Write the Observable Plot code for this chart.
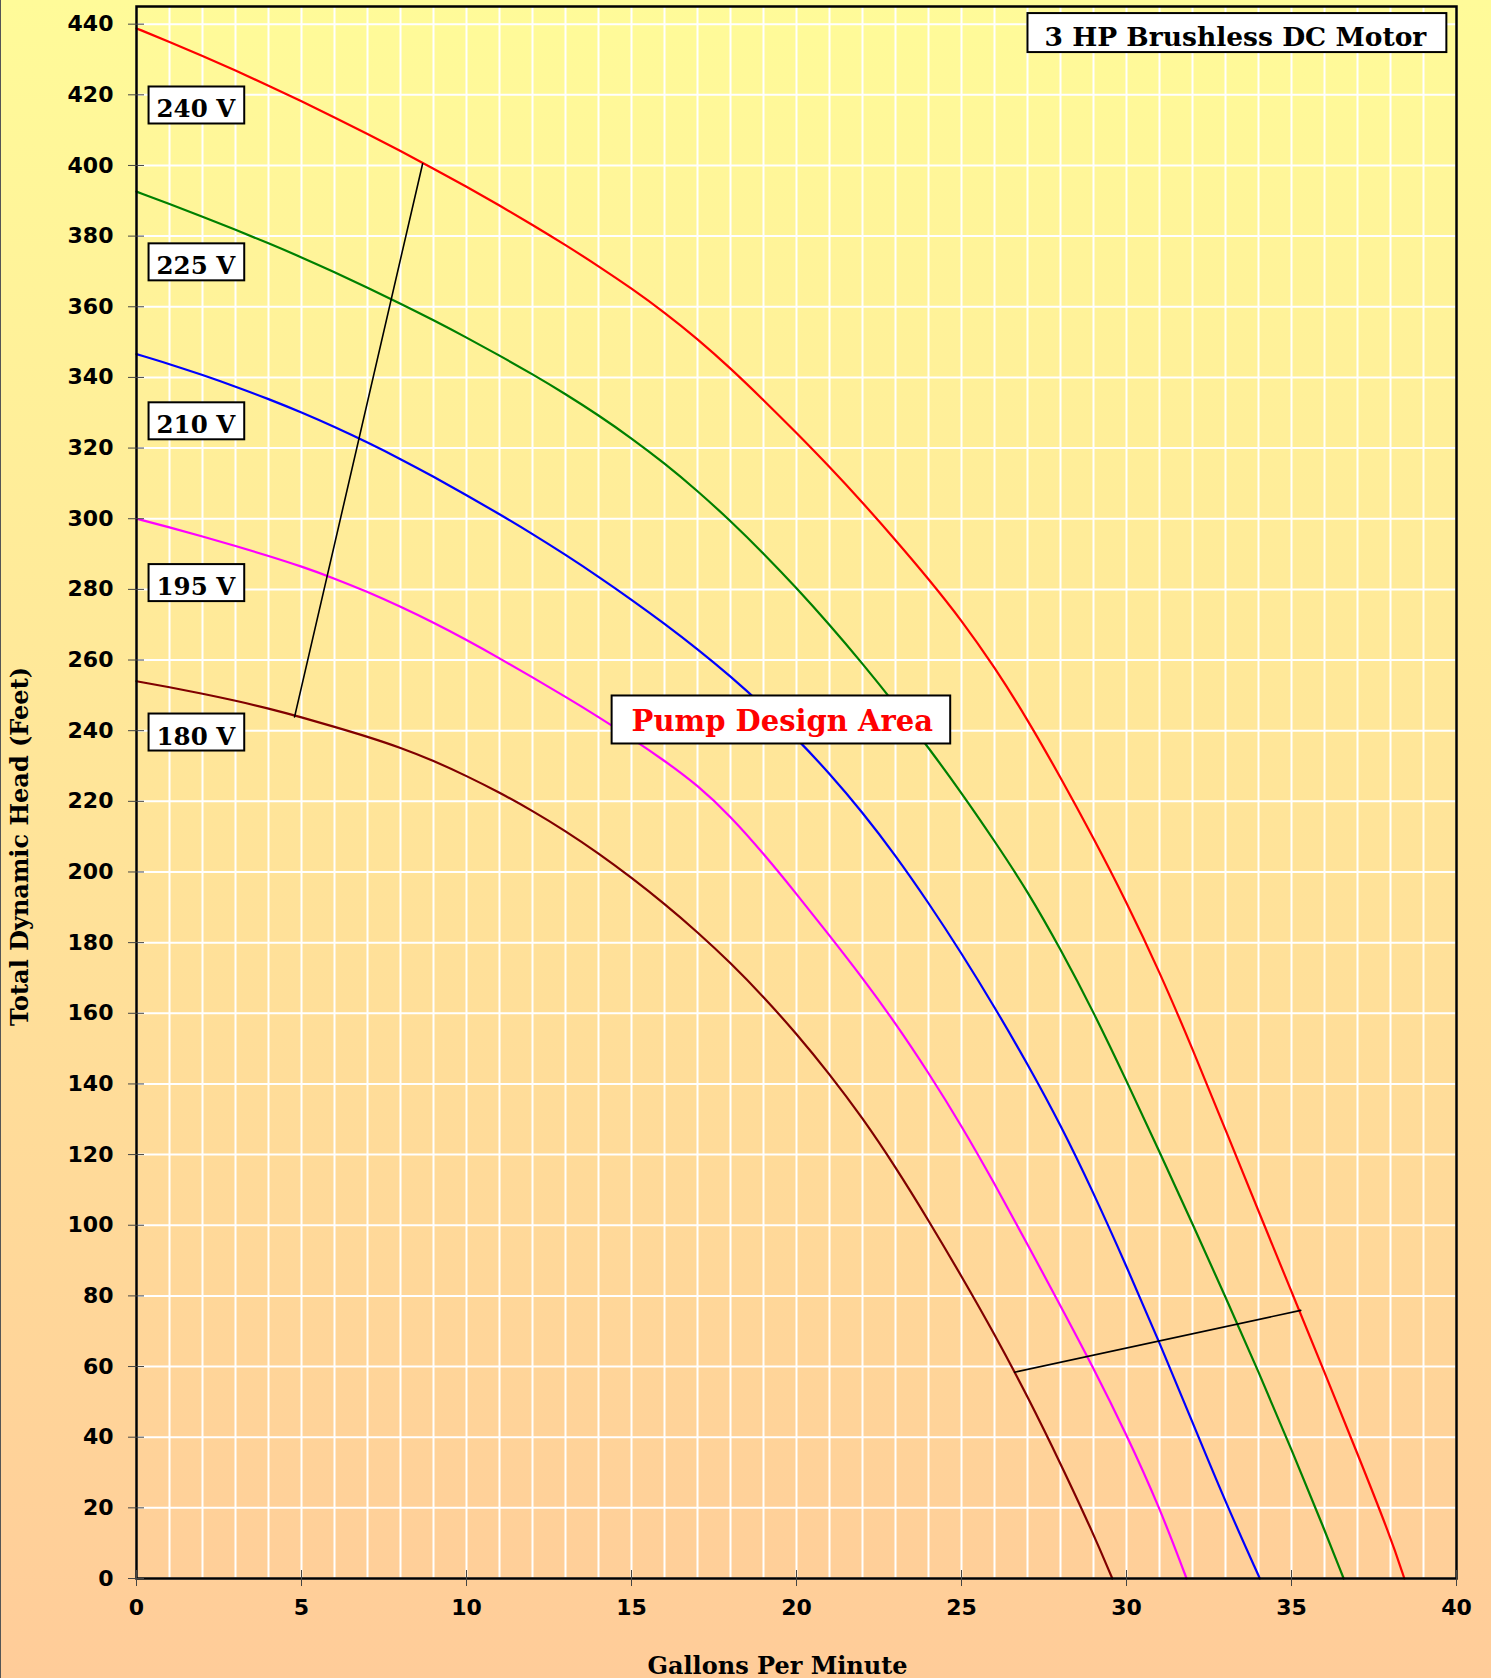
<!DOCTYPE html>
<html>
<head>
<meta charset="utf-8">
<script src="https://cdn.jsdelivr.net/npm/d3@7"></script>
<script src="https://cdn.jsdelivr.net/npm/@observablehq/plot@0.6"></script>
<style>
  html, body { margin: 0; padding: 0; }
  body {
    width: 1491px; height: 1678px; overflow: hidden;
    background:
      linear-gradient(to right, #555 0, #555 1px, transparent 1px),
      linear-gradient(to bottom, #FFFB99 0%, #FFCC99 100%);
  }
  #chart svg { display: block; }
</style>
</head>
<body>
<div id="chart"></div>
<script>
// ---- Data ----
const xTicks = [0, 5, 10, 15, 20, 25, 30, 35, 40];
const yTicks = [0, 20, 40, 60, 80, 100, 120, 140, 160, 180, 200, 220, 240, 260, 280, 300, 320, 340, 360, 380, 400, 420, 440];
const xMinorGrid = [0,1,2,3,4,5,6,7,8,9,10,11,12,13,14,15,16,17,18,19,20,21,22,23,24,25,26,27,28,29,30,31,32,33,34,35,36,37,38,39,40];

const gpm240 = [0,1,2,3,4,5,6,7,8,9,10,11,12,13,14,15,16,17,18,19,20,21,22,23,24,25,26,27,28,29,30,31,32,33,34,35,36,37,38,38.42];
const head240 = [438.8,435,431,426.9,422.6,418.2,413.6,408.9,404.1,399.1,394,388.7,383.2,377.5,371.5,365.2,358.4,350.9,342.6,333.6,324.3,314.7,304.6,294,283,271.3,258,243.2,226.8,209.6,191.5,171.8,150,127,104,81.2,58.4,35.3,11.8,0];

const gpm225 = [0,1,2,3,4,5,6,7,8,9,10,11,12,13,14,15,16,17,18,19,20,21,22,23,24,25,26,27,28,29,30,31,32,33,34,35,36,36.58];
const head225 = [392.6,389.1,385.5,381.8,378,374,369.8,365.4,360.9,356.2,351.3,346.2,340.9,335.3,329.3,322.8,315.7,307.9,299.4,290.2,280.4,270,259,247.4,235.2,222.4,208.8,194.6,178.2,160.4,140.9,120.8,100.4,79.7,58.6,36.5,13.8,0];

const gpm210 = [0,1,2,3,4,5,6,7,8,9,10,11,12,13,14,15,16,17,18,19,20,21,22,23,24,25,26,27,28,29,30,31,32,33,34.04];
const head210 = [346.6,343.8,340.7,337.4,333.9,330.1,326,321.6,316.9,311.9,306.7,301.3,295.7,289.8,283.6,277.1,270.3,263.1,255.4,247,237.9,227.9,216.9,204.7,191.3,177,161.8,145.7,128.5,109.2,88.4,66.8,44.2,21.6,0];

const gpm195 = [0,1,2,3,4,5,6,7,8,9,10,11,12,13,14,15,16,17,18,19,20,21,22,23,24,25,26,27,28,29,30,31,31.82];
const head195 = [300,297.6,295,292.3,289.5,286.5,283.1,279.3,275.1,270.6,265.7,260.5,255.1,249.6,243.9,237.9,231.5,224.6,215.8,205.2,193.8,182,170,157.2,143.2,128.2,111.8,94.6,77.2,59.6,40.8,20.2,0];

const gpm180 = [0,1,2,3,4,5,6,7,8,9,10,11,12,13,14,15,16,17,18,19,20,21,22,23,24,25,26,27,28,29,29.57];
const head180 = [254,252.3,250.5,248.5,246.3,243.8,241.1,238.3,235.2,231.5,227.2,222.5,217.3,211.6,205.3,198.4,191,183,174.3,164.7,154.2,142.8,130.4,116.5,101.4,85.6,69.2,51.6,32.6,12.6,0];

// design-area boundary lines
const upperBoundGpm = [4.79, 8.67];
const upperBoundHead = [243.9, 400.5];
const lowerBoundGpm = [26.61, 35.28];
const lowerBoundHead = [58.4, 75.9];

// voltage labels
const voltLabels = ["240 V", "225 V", "210 V", "195 V", "180 V"];
const voltLabelGpm = [1.8, 1.8, 1.8, 1.8, 1.8];
const voltLabelHead = [415.8, 371.4, 326.4, 280.6, 238.3];

const titleText = "3 HP Brushless DC Motor";
const titleGpm = 33.3, titleHead = 436.2;
const designText = "Pump Design Area";
const designGpm = 19.57, designHead = 242.4;

const xLabel = "Gallons Per Minute";
const yLabel = "Total Dynamic Head (Feet)";

// ---- Build tables ----
const toPts = (xs, ys) => xs.map((x, i) => ({gpm: x, head: ys[i]}));
const curves = [
  {pts: toPts(gpm240, head240), color: "#FF0000"},
  {pts: toPts(gpm225, head225), color: "#008000"},
  {pts: toPts(gpm210, head210), color: "#0000FF"},
  {pts: toPts(gpm195, head195), color: "#FF00FF"},
  {pts: toPts(gpm180, head180), color: "#800000"}
];
const voltTable = voltLabels.map((t, i) => ({text: t, gpm: voltLabelGpm[i], head: voltLabelHead[i]}));

const serif = "'DejaVu Serif', 'Liberation Serif', serif";

const chart = Plot.plot({
  width: 1491,
  height: 1678,
  marginLeft: 136,
  marginRight: 35,
  marginTop: 6,
  marginBottom: 100,
  style: {background: "transparent", fontFamily: "'DejaVu Sans', sans-serif", fontWeight: "bold", overflow: "visible"},
  x: {domain: [0, 40]},
  y: {domain: [0, 445]},
  marks: [
    Plot.gridX(xMinorGrid, {stroke: "white", strokeOpacity: 1, strokeWidth: 2}),
    Plot.gridY(yTicks, {stroke: "white", strokeOpacity: 1, strokeWidth: 2}),
    ...curves.map(c => Plot.line(c.pts, {x: "gpm", y: "head", stroke: c.color, strokeWidth: 2.2, curve: "basis"})),
    Plot.line(toPts(upperBoundGpm, upperBoundHead), {x: "gpm", y: "head", stroke: "black", strokeWidth: 1.6}),
    Plot.line(toPts(lowerBoundGpm, lowerBoundHead), {x: "gpm", y: "head", stroke: "black", strokeWidth: 1.6}),
    Plot.frame({stroke: "black", strokeWidth: 2.5}),
    Plot.axisY(yTicks, {tickSize: 16, dx: 8, tickPadding: 15, fontSize: 22, fontWeight: "bold", stroke: "#444", fill: "black", label: null}),
    Plot.axisX(xTicks, {tickSize: 16, dy: -8, tickPadding: 13, fontSize: 22, fontWeight: "bold", stroke: "#444", fill: "black", label: null}),
    Plot.text(voltTable, {x: "gpm", y: "head", text: "text", fontFamily: serif, fontSize: 24.5, fontWeight: "bold", fill: "black", textAnchor: "middle", lineAnchor: "middle"}),
    Plot.text([titleText], {x: titleGpm, y: titleHead, text: d => d, fontFamily: serif, fontSize: 26.5, fontWeight: "bold", fill: "black", textAnchor: "middle", lineAnchor: "middle"}),
    Plot.text([designText], {x: designGpm, y: designHead, text: d => d, fontFamily: serif, fontSize: 29, fontWeight: "bold", fill: "#FF0000", textAnchor: "middle", lineAnchor: "middle"}),
    Plot.text([xLabel], {frameAnchor: "bottom", text: d => d, dx: -19, dy: 88, fontFamily: serif, fontSize: 24, fontWeight: "bold", fill: "black", textAnchor: "middle", lineAnchor: "middle"}),
    Plot.text([yLabel], {frameAnchor: "left", text: d => d, rotate: -90, dx: -116, dy: 54, fontFamily: serif, fontSize: 24, fontWeight: "bold", fill: "black", textAnchor: "middle", lineAnchor: "middle"})
  ]
});

document.getElementById("chart").append(chart);

// white boxes behind the annotation labels, sized from the rendered text
const boxStyles = new Map([
  ...voltLabels.map(t => [t, {l: 8, r: 8, t: 8, b: 0}]),
  [titleText, {l: 17, r: 19, t: 8, b: 0}],
  [designText, {l: 20, r: 17, t: 9, b: 5}]
]);
chart.querySelectorAll("text").forEach(t => {
  const cfg = boxStyles.get(t.textContent);
  if (!cfg) return;
  const bb = t.getBBox();
  const r = document.createElementNS("http://www.w3.org/2000/svg", "rect");
  r.setAttribute("x", bb.x - cfg.l);
  r.setAttribute("y", bb.y - cfg.t);
  r.setAttribute("width", bb.width + cfg.l + cfg.r);
  r.setAttribute("height", bb.height + cfg.t + cfg.b);
  r.setAttribute("fill", "white");
  r.setAttribute("stroke", "black");
  r.setAttribute("stroke-width", 2);
  const tr = t.getAttribute("transform");
  if (tr) r.setAttribute("transform", tr);
  t.parentNode.insertBefore(r, t);
});
</script>
</body>
</html>
